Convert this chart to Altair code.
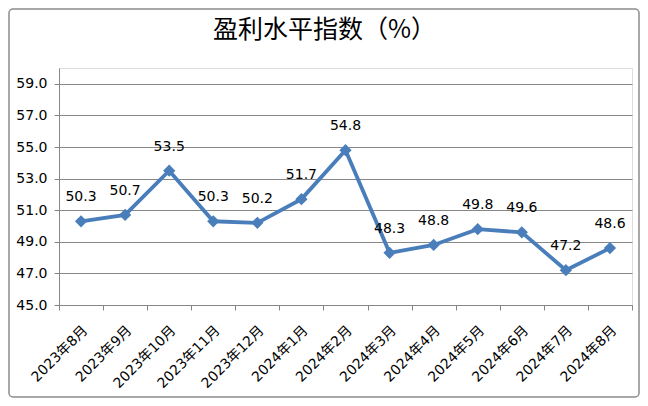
import altair as alt
import pandas as pd

months = ["2023年8月", "2023年9月", "2023年10月", "2023年11月", "2023年12月",
          "2024年1月", "2024年2月", "2024年3月", "2024年4月", "2024年5月",
          "2024年6月", "2024年7月", "2024年8月"]
values = [50.3, 50.7, 53.5, 50.3, 50.2, 51.7, 54.8, 48.3, 48.8, 49.8, 49.6, 47.2, 48.6]
y_ticks = [45, 47, 49, 51, 53, 55, 57, 59]

df = pd.DataFrame({"month": months, "value": values})
FONT = "DejaVu Sans, Noto Sans CJK SC"
BLUE = "#4A7EBB"
GRAY = "#878787"

x_enc = alt.X("month:N", sort=months,
              scale=alt.Scale(type="band", paddingInner=0, paddingOuter=0),
              axis=alt.Axis(title=None, labelAngle=-45, labelAlign="right",
                            labelBaseline="middle", labelPadding=18, labelOffset=4,
                            labelFont=FONT, labelFontSize=14, labelColor="#000",
                            tickBand="extent", tickSize=5, tickColor=GRAY,
                            domainColor=GRAY, grid=False))
y_enc = alt.Y("value:Q",
              scale=alt.Scale(domain=[45, 60], nice=False, zero=False),
              axis=alt.Axis(title=None, values=y_ticks, format=".1f",
                            labelFont=FONT, labelFontSize=14, labelColor="#000",
                            labelPadding=7, tickSize=5, tickColor=GRAY,
                            domainColor=GRAY, grid=True, gridColor=GRAY))

base = alt.Chart(df).encode(x=x_enc, y=y_enc)
line = base.mark_line(color=BLUE, strokeWidth=3.8)
pts = base.mark_point(shape="diamond", filled=True, color=BLUE, size=150, opacity=1)
labels = base.mark_text(dy=-24, fontSize=14, font=FONT, color="#000").encode(
    text=alt.Text("value:Q", format=".1f"))

border = alt.Chart(pd.DataFrame({"a": [0]})).mark_rect(
    fill=None, stroke="#8c8c8c", strokeWidth=1.5, cornerRadius=4
).encode(x=alt.value(-50), x2=alt.value(580), y=alt.value(-59), y2=alt.value(237 + 92))

chart = alt.layer(border, line, pts, labels).properties(
    width=573, height=237,
    padding={"left": 51, "top": 60, "right": 8, "bottom": 93},
    autosize="none",
    title=alt.TitleParams("盈利水平指数（%）", font="Noto Sans CJK SC", fontSize=25,
                          fontWeight="normal", color="#000", anchor="middle",
                          dx=-21, offset=-35),
).configure_view(stroke=None).configure(background="white")

chart.save("out.html", embed_options={"renderer": "svg", "actions": False})
